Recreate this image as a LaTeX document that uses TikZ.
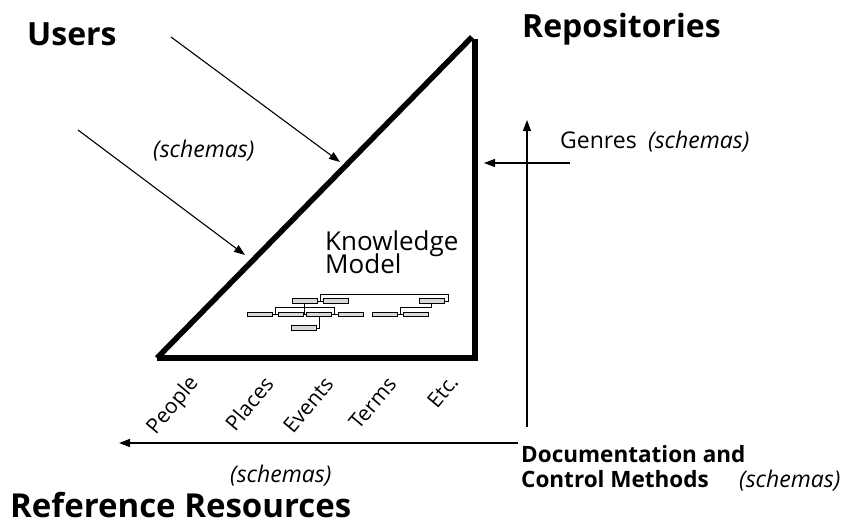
\documentclass[tikz,border=0pt]{standalone}
\usepackage{fontspec}
\setmainfont{Open Sans}
\usetikzlibrary{arrows.meta,calc}
\begin{document}
\begin{tikzpicture}[x=1pt,y=-1pt,
  triline/.style={line width=5.5pt},
  arr/.style={line width=1.1pt,-{Triangle[length=11pt,width=8pt]}},
  tbox/.style={draw=black,fill=gray!30,line width=0.7pt,minimum width=25pt,minimum height=4.4pt,inner sep=0pt,outer sep=0pt},
  tlink/.style={line width=0.8pt},
  big/.style={font=\fontsize{32}{38}\selectfont\bfseries,inner sep=0pt,anchor=base west},
  lab/.style={font=\fontsize{23}{27}\selectfont,inner sep=0pt,anchor=base west},
  labb/.style={font=\fontsize{22.5}{27}\selectfont\bfseries,inner sep=0pt,anchor=base west},
  km/.style={font=\fontsize{26}{31}\selectfont,inner sep=0pt,anchor=base west},
  sch/.style={font=\fontsize{23}{27}\selectfont\itshape,inner sep=0pt,anchor=base west},
  cat/.style={font=\fontsize{21}{25}\selectfont,inner sep=0pt,anchor=east,rotate=50}]
\useasboundingbox (0,0) rectangle (844,525);

% triangle
\coordinate (BL) at (157,358);
\coordinate (TR) at (472,37);
\coordinate (VT) at (475,39);
\coordinate (BR) at (475,358);
\draw[triline] (BL) -- (TR);
\draw[triline] (BL) -- ($(BR)+(2.75,0)$);
\draw[triline] (VT) -- (BR);

% headings
\node[big] (users) at (27,45) {Users};
\node[big] (repo) at (522,37) {Repositories};
\node[big,font=\fontsize{33}{38}\selectfont\bfseries] (refres) at (10,517) {Reference Resources};

% user arrows
\coordinate (u1s) at (171,37);
\coordinate (u1e) at (340,162);
\coordinate (u2s) at (78,130);
\coordinate (u2e) at (245,255);
\draw[arr] (u1s) -- (u1e);
\draw[arr] (u2s) -- (u2e);
\node[sch] (sch1) at (153,157) {(schemas)};

% knowledge model
\node[km] (know) at (325,250) {Knowledge};
\node[km] (model) at (325,273) {Model};

% tree
\node[tbox] (A) at (304.8,301) {};
\node[tbox] (B) at (335.8,301) {};
\node[tbox] (C) at (431.8,301) {};
\node[tbox] (D1) at (259.8,314.5) {};
\node[tbox] (D2) at (290.8,314.5) {};
\node[tbox] (D3) at (319.2,314.5) {};
\node[tbox] (D4) at (350.5,314.5) {};
\node[tbox] (D5) at (385,314.5) {};
\node[tbox] (D6) at (415.8,314.5) {};
\node[tbox] (E) at (303.5,328) {};
\draw[tlink] (A.east) -- (B.west);
\draw[tlink] ($(A.east)!.5!(B.west)$) -- ++(0,-7) -| ($(C.east)+(4,0)$) -- (C.east);
\draw[tlink] (A.south) -- (A.south |- D2.east);
\draw[tlink] ($(A.south)+(0,4.3)$) -| ($(D1.east)!.5!(D2.west)$);
\draw[tlink] ($(A.south)+(0,4.3)$) -| ($(D3.east)!.5!(D4.west)$);
\draw[tlink] (D1.east) -- (D2.west);
\draw[tlink] (D2.east) -- (D3.west);
\draw[tlink] (D3.east) -- (D4.west);
\draw[tlink] (C.south) -- ++(0,4.3) -| ($(D5.east)!.5!(D6.west)$);
\draw[tlink] (D5.east) -- (D6.west);
\draw[tlink] (D3.south) |- (E.east);

% categories
\node[cat] (people) at (195,380) {People};
\node[cat] (places) at (269,380) {Places};
\node[cat] (events) at (329,380) {Events};
\node[cat] (terms) at (392,380) {Terms};
\node[cat] (etc) at (454,378) {Etc.};

% genres
\node[lab] (genres) at (560,148) {Genres};
\node[sch] (sch2) at (648,148) {(schemas)};
\coordinate (gs) at (570,163);
\coordinate (ge) at (484,163);
\draw[arr] (gs) -- (ge);
\coordinate (vs) at (527,427);
\coordinate (ve) at (527,120);
\draw[arr] (vs) -- (ve);

% documentation
\coordinate (hs) at (518,443);
\coordinate (he) at (119,443);
\draw[arr,line width=1.5pt] (hs) -- (he);
\node[sch] (sch3) at (230,482) {(schemas)};
\node[labb] (doc) at (521,462) {Documentation and};
\node[labb] (ctrl) at (521,487) {Control Methods};
\node[sch] (sch4) at (739,487) {(schemas)};
\end{tikzpicture}
\end{document}
